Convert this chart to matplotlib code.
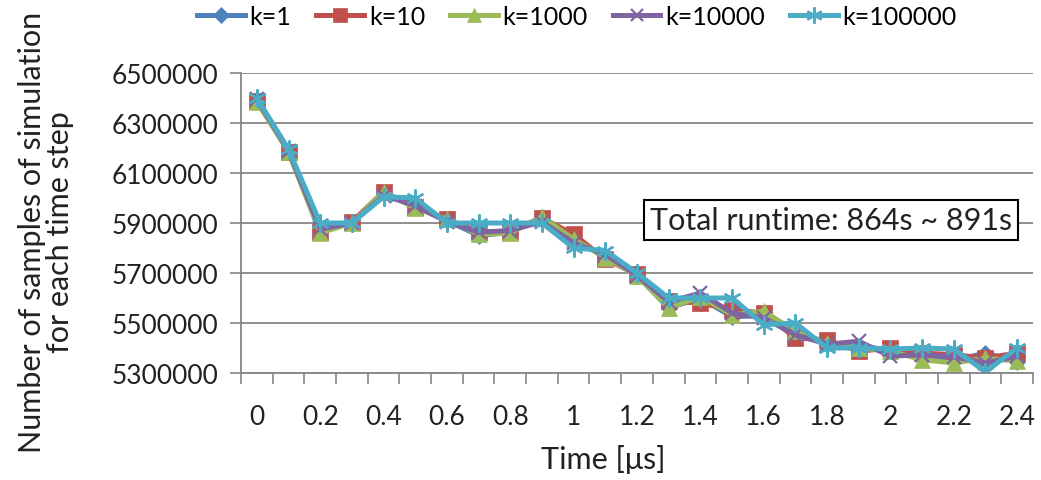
import matplotlib
matplotlib.use("Agg")
import matplotlib.pyplot as plt
import numpy as np

plt.rcParams['font.family'] = ['Lato', 'DejaVu Sans']

time_labels = ["0", "0.1", "0.2", "0.3", "0.4", "0.5", "0.6", "0.7", "0.8", "0.9", "1",
               "1.1", "1.2", "1.3", "1.4", "1.5", "1.6", "1.7", "1.8", "1.9", "2",
               "2.1", "2.2", "2.3", "2.4"]

k1 = [6390000, 6190000, 5870000, 5900000, 6020000, 5965000, 5910000, 5850000, 5862000,
      5925000, 5835000, 5765000, 5690000, 5560000, 5600000, 5525000, 5530000, 5460000,
      5420000, 5410000, 5390000, 5375000, 5350000, 5380000, 5345000]
k10 = [6390000, 6185000, 5865000, 5905000, 6025000, 5963000, 5915000, 5865000, 5865000,
       5920000, 5855000, 5755000, 5695000, 5587000, 5580000, 5553000, 5540000, 5440000,
       5433000, 5387000, 5400000, 5380000, 5373000, 5360000, 5380000]
k1000 = [6385000, 6185000, 5860000, 5900000, 6025000, 5960000, 5915000, 5855000, 5860000,
         5925000, 5835000, 5762000, 5690000, 5560000, 5605000, 5533000, 5547000, 5467000,
         5420000, 5400000, 5387000, 5353000, 5340000, 5360000, 5347000]
k10000 = [6395000, 6190000, 5875000, 5900000, 6010000, 5970000, 5905000, 5863000, 5870000,
          5905000, 5820000, 5775000, 5690000, 5585000, 5620000, 5540000, 5520000, 5453000,
          5415000, 5427000, 5367000, 5373000, 5365000, 5340000, 5367000]
k100000 = [6400000, 6195000, 5900000, 5900000, 6005000, 6000000, 5900000, 5900000, 5900000,
           5900000, 5800000, 5790000, 5700000, 5600000, 5600000, 5600000, 5493000, 5500000,
           5400000, 5400000, 5396000, 5400000, 5396000, 5305000, 5400000]

series_names = ["k=1", "k=10", "k=1000", "k=10000", "k=100000"]
series_vals = [k1, k10, k1000, k10000, k100000]
colors = ["#4F81BD", "#C0504D", "#9BBB59", "#8064A2", "#4BACC6"]
markers = ["D", "s", "^", "x", (6, 2, 0)]
msizes = [8.5, 11, 11, 10, 13]

y_ticks = [5300000, 5500000, 5700000, 5900000, 6100000, 6300000, 6500000]

fig = plt.figure(figsize=(10.41, 4.81), dpi=100)
ax = fig.add_axes([241/1041, 1-374/481, (1033-241)/1041, (374-74)/481])

x = np.arange(len(time_labels))
for name, vals, c, m, ms in zip(series_names, series_vals, colors, markers, msizes):
    mew = 1.6 if m in ("x",) or isinstance(m, tuple) else 0.5
    ax.plot(x, vals, color=c, lw=3.6, marker=m, markersize=ms, markerfacecolor=c,
            markeredgecolor=c, markeredgewidth=mew, label=name, solid_joinstyle='miter')

ax.set_xlim(-0.5, len(time_labels) - 0.5)
ax.set_ylim(y_ticks[0], y_ticks[-1])
ax.set_yticks(y_ticks)
ax.set_yticklabels([str(v) for v in y_ticks])
ax.yaxis.grid(True, color="#868686", lw=1.3)
ax.set_axisbelow(True)

ax.set_xticks(x[::2])
ax.set_xticklabels(time_labels[::2])
ax.set_xticks(np.arange(-0.5, len(time_labels)), minor=True)
ax.tick_params(axis='x', which='major', length=0, pad=22, labelsize=19, colors='#222222')
ax.tick_params(axis='x', which='minor', length=8, width=1.2, color='#868686')
ax.tick_params(axis='y', length=8, width=1.2, color='#868686', pad=8, labelsize=19,
               labelcolor='#222222')

for s in ["top", "right"]:
    ax.spines[s].set_visible(False)
for s in ["left", "bottom"]:
    ax.spines[s].set_color("#868686")
    ax.spines[s].set_linewidth(1.3)

fig.text(603/1041, 1-460/481, "Time [μs]", ha='center', va='center', fontsize=22,
         color='#222222')
fig.text(0.044, 1-232/481, "Number of samples of simulation\nfor each time step", rotation=90,
         ha='center', va='center', fontsize=22, color='#222222', linespacing=1.0)

ax.text((1012-241)/792, 0.51, "Total runtime: 864s ~ 891s", transform=ax.transAxes,
        ha='right', va='center', fontsize=22, color='#222222',
        bbox=dict(boxstyle='square,pad=0.2', facecolor='white', edgecolor='black', lw=1.5))

fig.legend(loc='upper center', bbox_to_anchor=(577/1041, 1.035), ncol=5, frameon=False,
           fontsize=18, handlelength=1.9, columnspacing=1.0, handletextpad=0.2,
           markerscale=0.9)

fig.savefig("out.png", dpi=100)
